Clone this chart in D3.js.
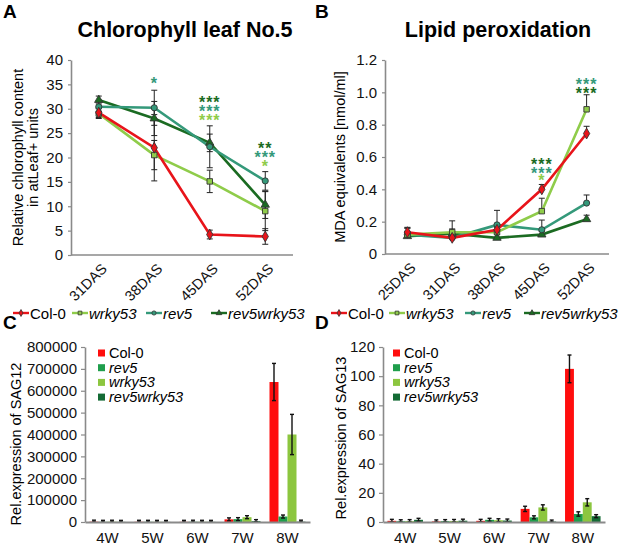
<!DOCTYPE html>
<html><head><meta charset="utf-8">
<script src="https://cdnjs.cloudflare.com/ajax/libs/d3/7.8.5/d3.min.js"></script>
<style>body{margin:0;background:#fff} text{font-family:"Liberation Sans",Arial,sans-serif}</style>
</head><body><svg id="c" width="626" height="547"></svg>
<script>
// ---------- DATA ----------
const seriesLine = ["Col-0","wrky53","rev5","rev5wrky53"];
const lineColors = ["#e8141a","#8fcc4a","#34997a","#1b6b22"];
const markerTypes = ["diamond","square","circle","triangle"];

const daysA = ["31DAS","38DAS","45DAS","52DAS"];
const chlCol0 = [29.2, 22.0, 4.2, 3.8];
const chlWrky53 = [29.0, 20.5, 15.1, 9.0];
const chlRev5 = [30.4, 30.2, 22.2, 15.2];
const chlRev5wrky53 = [31.8, 28.0, 23.0, 10.3];
const chlErrCol0 = [1.0, 6.8, 0.9, 1.6];
const chlErrWrky53 = [1.0, 3.0, 2.3, 4.0];
const chlErrRev5 = [1.0, 3.6, 4.3, 1.9];
const chlErrRev5wrky53 = [0.8, 3.5, 1.8, 2.8];
const ticksA = [0,5,10,15,20,25,30,35,40];

const daysB = ["25DAS","31DAS","38DAS","45DAS","52DAS"];
const mdaCol0 = [0.135, 0.10, 0.15, 0.40, 0.745];
const mdaWrky53 = [0.12, 0.135, 0.135, 0.265, 0.895];
const mdaRev5 = [0.12, 0.10, 0.18, 0.15, 0.315];
const mdaRev5wrky53 = [0.11, 0.125, 0.10, 0.12, 0.215];
const mdaErrCol0 = [0.03, 0.03, 0.03, 0.03, 0.045];
const mdaErrWrky53 = [0.04, 0.07, 0.03, 0.08, 0.09];
const mdaErrRev5 = [0.04, 0.03, 0.09, 0.06, 0.05];
const mdaErrRev5wrky53 = [0.03, 0.03, 0.02, 0.02, 0.025];
const ticksB = [0,0.2,0.4,0.6,0.8,1.0,1.2];

// significance stars: [category, text, series index]
const starsA = [["38DAS","*",2],["45DAS","***",3],["45DAS","***",2],["45DAS","***",1],
                ["52DAS","**",3],["52DAS","***",2],["52DAS","*",1]];
const starsB = [["45DAS","***",3],["45DAS","***",2],["45DAS","*",1],
                ["52DAS","***",2],["52DAS","***",3]];

const seriesBar = ["Col-0","rev5","wrky53","rev5wrky53"];
const barColors = ["#ff0d0d","#1f9e4c","#8cc63f","#146b35"];
const weeks = ["4W","5W","6W","7W","8W"];
const sag12 = {
  "Col-0":      [1500, 1000, 800, 12000, 640000],
  "rev5":       [800, 900, 1200, 13000, 25000],
  "wrky53":     [1200, 700, 900, 22000, 400000],
  "rev5wrky53": [600, 500, 700, 4000, 1500]
};
const sag12Err = {
  "Col-0":      [800, 600, 500, 3000, 85000],
  "rev5":       [500, 500, 600, 3000, 5000],
  "wrky53":     [700, 400, 500, 4000, 92000],
  "rev5wrky53": [400, 300, 400, 2000, 1000]
};
const ticksC = [0,100000,200000,300000,400000,500000,600000,700000,800000];
const sag13 = {
  "Col-0":      [0.8, 0.4, 0.8, 9.0, 105],
  "rev5":       [0.5, 0.6, 1.5, 3.2, 5.5],
  "wrky53":     [0.6, 0.7, 1.2, 10.0, 13.5],
  "rev5wrky53": [1.5, 0.9, 1.0, 0.3, 4.0]
};
const sag13Err = {
  "Col-0":      [0.2, 0.2, 0.2, 1.8, 9.5],
  "rev5":       [0.2, 0.2, 0.4, 0.8, 1.5],
  "wrky53":     [0.2, 0.2, 0.3, 1.8, 2.5],
  "rev5wrky53": [0.4, 0.3, 0.2, 0.2, 0.8]
};
const ticksD = [0,20,40,60,80,100,120];

// ---------- DRAW ----------
const svg = d3.select("#c");
svg.append("rect").attr("width",626).attr("height",547).attr("fill","#fff");
const AX = "#8a8a8a";
const symMap = {diamond:d3.symbolDiamond, square:d3.symbolSquare, circle:d3.symbolCircle, triangle:d3.symbolTriangle};

function styleAxis(g, fs){
  g.select(".domain").attr("stroke",AX).attr("stroke-width",1.6);
  g.selectAll(".tick line").attr("stroke",AX).attr("stroke-width",1.2);
  g.selectAll(".tick text").attr("fill","#111").style("font-size",(fs||14.5)+"px")
   .style("font-family","'Liberation Sans',Arial,sans-serif");
}

function linePanel(o){
  const g = svg.append("g");
  const x = d3.scalePoint().domain(o.cats).range([o.x0,o.x1]).padding(0.5);
  const y = d3.scaleLinear().domain([0,o.ymax]).range([o.yb,o.yt]);
  const ya = g.append("g").attr("transform",`translate(${o.x0},0)`)
    .call(d3.axisLeft(y).tickValues(o.ticks).tickSize(3).tickSizeOuter(0).tickPadding(5).tickFormat(o.fmt));
  styleAxis(ya, 15);
  const xa = g.append("g").attr("transform",`translate(0,${o.yb})`)
    .call(d3.axisBottom(x).tickSize(0).tickSizeOuter(0));
  styleAxis(xa, 14.5);
  xa.select(".domain").attr("d",`M${o.x0},0H${o.x1}`);
  xa.selectAll(".tick text").attr("text-anchor","end").attr("dy","0.35em").attr("y",0)
    .attr("transform","translate(5,11) rotate(-45)");
  // error bars
  o.vals.forEach((vals,si)=>{
    const eg = g.append("g").attr("stroke","#222").attr("stroke-width",1);
    vals.forEach((v,i)=>{
      const e = o.errs[si][i], cx = x(o.cats[i]);
      const top = y(v+e), bot = o.upOnly ? y(v) : y(Math.max(0,v-e));
      eg.append("line").attr("x1",cx).attr("x2",cx).attr("y1",top).attr("y2",bot);
      eg.append("line").attr("x1",cx-3).attr("x2",cx+3).attr("y1",top).attr("y2",top);
      if(!o.upOnly) eg.append("line").attr("x1",cx-3).attr("x2",cx+3).attr("y1",bot).attr("y2",bot);
    });
  });
  const order = [3,2,1,0];
  order.forEach(si=>{
    const vals = o.vals[si];
    g.append("path").datum(vals)
      .attr("d",d3.line().x((d,i)=>x(o.cats[i])).y(d=>y(d)))
      .attr("fill","none").attr("stroke",lineColors[si]).attr("stroke-width",2.6);
  });
  order.forEach(si=>{
    o.vals[si].forEach((v,i)=>{
      g.append("path").attr("d",d3.symbol(symMap[markerTypes[si]], si===0?34:30)())
        .attr("transform",`translate(${x(o.cats[i])},${y(v)})`)
        .attr("fill",lineColors[si]).attr("stroke","#333").attr("stroke-width",0.9);
    });
  });
  // stars
  o.stars.forEach(s=>{
    g.append("text").attr("x",x(s[0])).attr("y",s[3]).attr("text-anchor","middle")
      .attr("fill",lineColors[s[2]]).style("font-size","16px").style("font-weight","bold")
      .style("letter-spacing","1px").text(s[1]);
  });
  // title & letter
  g.append("text").attr("x",o.titleX).attr("y",37).attr("text-anchor","middle")
    .style("font-size","21.5px").style("font-weight","bold").text(o.title);
  g.append("text").attr("x",o.letterX).attr("y",18).style("font-size","19px")
    .style("font-weight","bold").text(o.letter);
  // y label
  o.ylab.forEach((t,k)=>{
    g.append("text").attr("transform",`translate(${o.ylabX[k]},${(o.yt+o.yb)/2}) rotate(-90)`)
      .attr("text-anchor","middle").style("font-size","14.5px").text(t);
  });
  // legend
  const lx = o.legX, ly = 313;
  seriesLine.forEach((s,si)=>{
    const lg = g.append("g").attr("transform",`translate(${lx[si]},${ly})`);
    lg.append("line").attr("x1",0).attr("x2",16).attr("stroke",lineColors[si]).attr("stroke-width",2.4);
    lg.append("path").attr("d",d3.symbol(symMap[markerTypes[si]],14)()).attr("transform","translate(8,0)")
      .attr("fill",lineColors[si]).attr("stroke","#333").attr("stroke-width",0.8);
    lg.append("text").attr("x",17).attr("y",5.5).style("font-size","15px")
      .style("font-style",si===0?"normal":"italic").text(s);
  });
}

function withY(stars, ys){ return stars.map((s,i)=>[s[0],s[1],s[2],ys[i]]); }

linePanel({cats:daysA, x0:71, x1:293, yt:60, yb:255, ymax:40, ticks:ticksA, fmt:d3.format("d"),
  vals:[chlCol0,chlWrky53,chlRev5,chlRev5wrky53],
  errs:[chlErrCol0,chlErrWrky53,chlErrRev5,chlErrRev5wrky53], upOnly:false,
  stars:withY(starsA,[89,108,117,126,154,163,172]),
  title:"Chlorophyll leaf No.5", titleX:185, letter:"A", letterX:3,
  ylab:["Relative chlorophyll content","in atLeaf+ units"], ylabX:[23,38], legX:[13,72,146,211]});

linePanel({cats:daysB, x0:385, x1:609, yt:60, yb:254, ymax:1.2, ticks:ticksB,
  fmt:d=>d===0?"0":d3.format(".1f")(d),
  vals:[mdaCol0,mdaWrky53,mdaRev5,mdaRev5wrky53],
  errs:[mdaErrCol0,mdaErrWrky53,mdaErrRev5,mdaErrRev5wrky53], upOnly:true,
  stars:withY(starsB,[170,179,186,90,99]),
  title:"Lipid peroxidation", titleX:498, letter:"B", letterX:315,
  ylab:["MDA equivalents [nmol/ml]"], ylabX:[345], legX:[331,389,465,524]});

function barPanel(o){
  const g = svg.append("g");
  const x = d3.scaleBand().domain(weeks).range([o.x0,o.x1]).paddingInner(0.2).paddingOuter(0.1);
  const xs = d3.scaleBand().domain(seriesBar).range([0,x.bandwidth()]);
  const y = d3.scaleLinear().domain([0,o.ymax]).range([o.yb,o.yt]);
  seriesBar.forEach((s,si)=>{
    o.vals[s].forEach((v,i)=>{
      g.append("rect").attr("x",x(weeks[i])+xs(s)).attr("width",xs.bandwidth())
        .attr("y",y(v)).attr("height",o.yb-y(v)).attr("fill",barColors[si]);
    });
  });
  seriesBar.forEach((s,si)=>{
    o.vals[s].forEach((v,i)=>{
      const e = o.errs[s][i], cx = x(weeks[i])+xs(s)+xs.bandwidth()/2;
      const t = Math.min(y(v+e), y(v)-1.5), b = Math.max(y(Math.max(0,v-e)), y(v)+1.5);
      g.append("line").attr("x1",cx).attr("x2",cx).attr("y1",t).attr("y2",Math.min(b,o.yb))
        .attr("stroke","#111").attr("stroke-width",1.4);
      g.append("line").attr("x1",cx-2).attr("x2",cx+2).attr("y1",t).attr("y2",t)
        .attr("stroke","#111").attr("stroke-width",1.4);
      g.append("line").attr("x1",cx-2).attr("x2",cx+2).attr("y1",Math.min(b,o.yb)).attr("y2",Math.min(b,o.yb))
        .attr("stroke","#111").attr("stroke-width",1.4);
    });
  });
  const ya = g.append("g").attr("transform",`translate(${o.x0},0)`)
    .call(d3.axisLeft(y).tickValues(o.ticks).tickSize(4).tickSizeOuter(0).tickPadding(4).tickFormat(d3.format("d")));
  styleAxis(ya, 15);
  const xa = g.append("g").attr("transform",`translate(0,${o.yb})`)
    .call(d3.axisBottom(x).tickSize(0).tickSizeOuter(0).tickPadding(10));
  styleAxis(xa, 15);
  xa.select(".domain").attr("stroke-width",2);
  g.append("text").attr("x",o.letterX).attr("y",329).style("font-size","19px")
    .style("font-weight","bold").text(o.letter);
  g.append("text").attr("transform",`translate(${o.ylabX},${o.ylabY}) rotate(-90)`)
    .attr("text-anchor","middle").style("font-size","14.5px").text(o.ylab);
  seriesBar.forEach((s,si)=>{
    const yy = 353 + si*14.7;
    g.append("rect").attr("x",o.legX).attr("y",yy-3.5).attr("width",7).attr("height",7).attr("fill",barColors[si]);
    g.append("text").attr("x",o.legX+11).attr("y",yy+5).style("font-size","14.5px")
      .style("font-style",si===0?"normal":"italic").text(s);
  });
}

barPanel({x0:85, x1:310, yt:347, yb:522, ymax:800000, ticks:ticksC, vals:sag12, errs:sag12Err,
  letter:"C", letterX:3, ylab:"Rel.expression of SAG12", ylabX:21, ylabY:444, legX:98});
barPanel({x0:383, x1:605, yt:347, yb:522, ymax:120, ticks:ticksD, vals:sag13, errs:sag13Err,
  letter:"D", letterX:315, ylab:"Rel.expression of SAG13", ylabX:346, ylabY:438, legX:393});
</script></body></html>
